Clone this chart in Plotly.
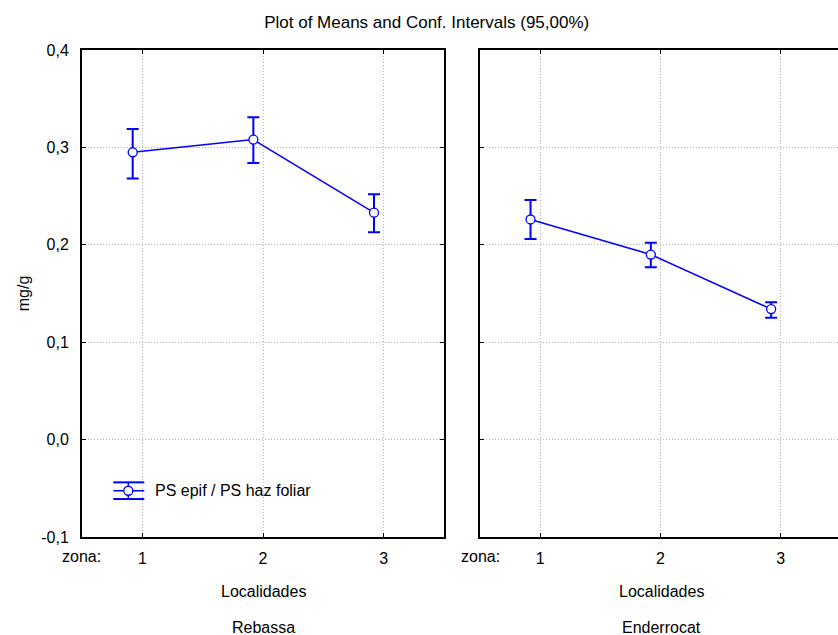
import plotly.graph_objects as go

# Zones along the x axis
zonas = [1, 2, 3]
# Points sit slightly left of each zone tick
x_pos = [0.92, 1.92, 2.92]

# Rebassa: means and 95% confidence limits (mg/g)
rebassa_mean = [0.295, 0.308, 0.233]
rebassa_upper = [0.319, 0.331, 0.252]
rebassa_lower = [0.268, 0.284, 0.213]

# Enderrocat: means and 95% confidence limits (mg/g)
enderrocat_mean = [0.226, 0.190, 0.134]
enderrocat_upper = [0.246, 0.202, 0.141]
enderrocat_lower = [0.206, 0.177, 0.125]

y_ticks = [-0.1, 0.0, 0.1, 0.2, 0.3, 0.4]
y_tick_text = ["-0,1", "0,0", "0,1", "0,2", "0,3", "0,4"]
series_name = "PS epif / PS haz foliar"
panels = ["Rebassa", "Enderrocat"]

BLUE = "#0000ff"
FONT = "Liberation Sans, Arial, sans-serif"
FS = 16
GRID = dict(showgrid=True, gridcolor="#b4b4b4", griddash="1px,2px", gridwidth=1)

fig = go.Figure()


def add_series(mean, upper, lower, xa, ya):
    fig.add_trace(go.Scatter(
        x=x_pos, y=mean, xaxis=xa, yaxis=ya,
        mode="lines+markers", name=series_name, showlegend=False,
        line=dict(color=BLUE, width=1.5),
        marker=dict(symbol="circle", size=9, color="white",
                    line=dict(color=BLUE, width=1.3)),
        error_y=dict(type="data", symmetric=False,
                     array=[u - m for u, m in zip(upper, mean)],
                     arrayminus=[m - l for m, l in zip(mean, lower)],
                     color=BLUE, thickness=2, width=6),
    ))


add_series(rebassa_mean, rebassa_upper, rebassa_lower, "x", "y")
add_series(enderrocat_mean, enderrocat_upper, enderrocat_lower, "x2", "y2")

W, H = 838, 635
L, R, T, B = 82, 0, 49.5, 98
plot_w = W - L - R
plot_h = H - T - B
left_dom = [0, (444 - L) / plot_w]
right_dom = [(480 - L) / plot_w, 1]
px_per_unit = 120.3
right_range_end = 0.5 + (W - 480) / px_per_unit


def px(xp):
    return (xp - L) / plot_w


def py(yp):
    return (H - B - yp) / plot_h


tick_font = dict(family=FONT, size=FS, color="black")

common_x = dict(
    tickmode="array", tickvals=zonas, ticktext=[str(z) for z in zonas],
    ticks="inside", ticklen=4, tickcolor="black", tickwidth=1,
    showline=True, linecolor="black", linewidth=2,
    zeroline=False, ticklabelstandoff=6, tickfont=tick_font, **GRID,
)
common_y = dict(
    range=[-0.1, 0.4], tickmode="array", tickvals=y_ticks, ticktext=y_tick_text,
    ticks="inside", ticklen=4, tickcolor="black", tickwidth=1,
    showline=True, linecolor="black", linewidth=2,
    zeroline=False, ticklabelstandoff=8,
    tickfont=tick_font, **GRID,
)

fig.update_layout(
    width=W, height=H,
    margin=dict(l=L, r=R, t=T, b=B, pad=0),
    paper_bgcolor="white", plot_bgcolor="white",
    separators=",.",
    font=dict(family=FONT, size=FS, color="black"),
    title=dict(text="Plot of Means and Conf. Intervals (95,00%)",
               x=426.7 / W, xanchor="center", y=1 - 22 / H, yanchor="middle",
               font=dict(family=FONT, size=17, color="black")),
    xaxis=dict(domain=left_dom, range=[0.5, 3.5], mirror="ticks", **common_x),
    yaxis=dict(domain=[0, 1], mirror="ticks", **common_y,
               title=dict(text="mg/g", standoff=8,
                          font=dict(family=FONT, size=FS, color="black"))),
    xaxis2=dict(domain=right_dom, range=[0.5, right_range_end], anchor="y2",
                mirror="ticks", **common_x),
    yaxis2=dict(domain=[0, 1], anchor="x2", showticklabels=False, **common_y),
    showlegend=False,
)

# Legend key: sideways error-bar glyph with open circle, plus its label
key_l, key_r, key_c = 113.3, 144.3, 128.3
cap_top, key_mid, cap_bot = 482.3, 490.7, 499.0
shapes = []
for yy in (cap_top, key_mid, cap_bot):
    shapes.append(dict(type="line", xref="paper", yref="paper",
                       x0=px(key_l), x1=px(key_r), y0=py(yy), y1=py(yy),
                       line=dict(color=BLUE, width=2 if yy != key_mid else 1.5)))
shapes.append(dict(type="line", xref="paper", yref="paper",
                   x0=px(key_c), x1=px(key_c), y0=py(cap_top), y1=py(cap_bot),
                   line=dict(color=BLUE, width=1.5)))
shapes.append(dict(type="circle", xref="paper", yref="paper",
                   x0=px(key_c - 4.5), x1=px(key_c + 4.5),
                   y0=py(key_mid + 4.5), y1=py(key_mid - 4.5),
                   fillcolor="white", line=dict(color=BLUE, width=1.3)))
fig.update_layout(shapes=shapes)

annotations = [dict(text=series_name, xref="paper", x=px(153.3), xanchor="left",
                    yref="paper", y=py(key_mid), yanchor="middle", showarrow=False,
                    font=dict(family=FONT, size=FS, color="black"))]

# Labels under each panel
centers = [0.5, (661.3 - 480) / (W - 480)]
for xref, label, cx, zona_x in [("x domain", panels[0], centers[0], 81.7),
                                ("x2 domain", panels[1], centers[1], 480.5)]:
    annotations.append(dict(text="Localidades", xref=xref, x=cx,
                            yref="paper", y=py(591.7),
                            xanchor="center", yanchor="middle", showarrow=False,
                            font=dict(family=FONT, size=FS, color="black")))
    annotations.append(dict(text=label, xref=xref, x=cx,
                            yref="paper", y=py(628),
                            xanchor="center", yanchor="middle", showarrow=False,
                            font=dict(family=FONT, size=FS, color="black")))
    annotations.append(dict(text="zona:", xref="paper", x=px(zona_x),
                            yref="paper", y=py(556.7),
                            xanchor="center", yanchor="middle", showarrow=False,
                            font=dict(family=FONT, size=FS, color="black")))
fig.update_layout(annotations=annotations)

fig.write_html("out.html")
